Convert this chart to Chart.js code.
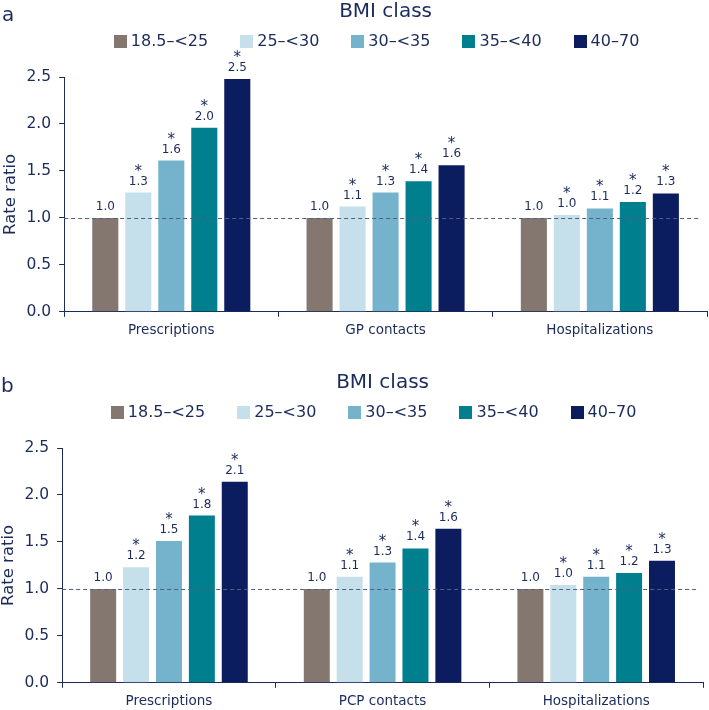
<!DOCTYPE html>
<html>
<head>
<meta charset="utf-8">
<script src="https://cdn.jsdelivr.net/npm/chart.js@4.4.1/dist/chart.umd.min.js"></script>
<style>
  html, body { margin: 0; padding: 0; background: #fff; width: 709px; height: 710px; overflow: hidden; }
  .panel { position: absolute; left: 0; width: 709px; height: 345px; }
  .tag { position: absolute; top: 2px; left: 2px; font: 20px "DejaVu Sans", sans-serif; color: #1b2b5b; }
</style>
</head>
<body>
<div class="panel" style="top:0">
  <canvas id="chartA" width="709" height="345"></canvas>
  <div class="tag">a</div>
</div>
<div class="panel" style="top:371px; left:-2px">
  <canvas id="chartB" width="709" height="345"></canvas>
  <div class="tag" style="left:3px">b</div>
</div>
<script>
// BMI classes (legend)
const BMI_CLASSES = ["18.5–<25", "25–<30", "30–<35", "35–<40", "40–70"];
const SIGNIFICANT = [false, true, true, true, true];
const REF_LINE = 1.0;

// panel a
const CATEGORIES_A = ["Prescriptions", "GP contacts", "Hospitalizations"];
const A_BMI_18 = [1.00, 1.00, 1.00];
const A_BMI_25 = [1.27, 1.12, 1.03];
const A_BMI_30 = [1.61, 1.27, 1.10];
const A_BMI_35 = [1.96, 1.39, 1.17];
const A_BMI_40 = [2.48, 1.56, 1.26];

// panel b
const CATEGORIES_B = ["Prescriptions", "PCP contacts", "Hospitalizations"];
const B_BMI_18 = [1.00, 1.00, 1.00];
const B_BMI_25 = [1.23, 1.13, 1.04];
const B_BMI_30 = [1.51, 1.28, 1.13];
const B_BMI_35 = [1.78, 1.43, 1.17];
const B_BMI_40 = [2.14, 1.64, 1.30];

const BAR_COLORS = ["#837770", "#c5dfeb", "#75b3cc", "#007f8f", "#0b1c5f"];
const TEXT = "#1b2b5b";
const FONT = '"DejaVu Sans", Verdana, sans-serif';

Chart.defaults.font.family = FONT;
Chart.defaults.color = TEXT;

// legend row drawn under the title, centred a bit left of the plot area
const bmiLegend = {
  id: "bmiLegend",
  afterDraw(chart) {
    const ctx = chart.ctx;
    const area = chart.chartArea;
    const box = 13, gap = 4, spacing = 32, y = 41;
    ctx.save();
    ctx.font = "16px " + FONT;
    const items = chart.data.datasets.map(ds => ({
      text: ds.label, color: ds.backgroundColor, w: ctx.measureText(ds.label).width
    }));
    const total = items.reduce((s, it) => s + box + gap + it.w, 0) + spacing * (items.length - 1);
    let x = (area.left + area.right) / 2 - 9 - total / 2;
    ctx.textBaseline = "middle";
    ctx.textAlign = "left";
    items.forEach(it => {
      ctx.fillStyle = it.color;
      ctx.fillRect(Math.round(x), y - 6, box, box);
      x += box + gap;
      ctx.fillStyle = TEXT;
      ctx.fillText(it.text, x, y + 1);
      x += it.w + spacing;
    });
    ctx.restore();
  }
};

// dashed reference line + value labels with asterisks
const barLabels = {
  id: "barLabels",
  afterDatasetsDraw(chart) {
    const ctx = chart.ctx;
    const area = chart.chartArea;
    const yRef = Math.round(chart.scales.y.getPixelForValue(REF_LINE)) + 0.5;
    ctx.save();
    ctx.strokeStyle = "#4f5f80";
    ctx.lineWidth = 1.2;
    ctx.setLineDash([4, 3]);
    ctx.beginPath();
    ctx.moveTo(area.left, yRef);
    ctx.lineTo(area.right - 7, yRef);
    ctx.stroke();
    ctx.setLineDash([]);
    ctx.fillStyle = TEXT;
    ctx.textAlign = "center";
    ctx.textBaseline = "alphabetic";
    chart.data.datasets.forEach((ds, i) => {
      chart.getDatasetMeta(i).data.forEach((bar, j) => {
        ctx.font = "12px " + FONT;
        ctx.fillText(ds.data[j].toFixed(1), bar.x, bar.y - 8);
        if (SIGNIFICANT[i]) {
          ctx.font = "15px " + FONT;
          ctx.fillText("*", bar.x, bar.y - 17);
        }
      });
    });
    ctx.restore();
  }
};

function makeChart(id, categories, series, padRight) {
  new Chart(document.getElementById(id), {
    type: "bar",
    data: {
      labels: categories,
      datasets: series.map((values, i) => ({
        label: BMI_CLASSES[i],
        data: values,
        backgroundColor: BAR_COLORS[i],
        borderWidth: 0,
        categoryPercentage: 0.77,
        barPercentage: 0.79
      }))
    },
    options: {
      responsive: false,
      animation: false,
      layout: { padding: { top: 0, left: 0, right: padRight, bottom: 0 } },
      plugins: {
        legend: { display: false },
        tooltip: { enabled: false },
        title: {
          display: true,
          text: "BMI class",
          fullSize: false,
          color: TEXT,
          font: { size: 20, weight: "normal", lineHeight: 1 },
          padding: { top: 2, bottom: 55 }
        }
      },
      scales: {
        x: {
          grid: { drawOnChartArea: false, offset: true, tickLength: 5, color: TEXT },
          border: { color: TEXT, width: 1 },
          ticks: { color: TEXT, font: { size: 13.5 }, padding: 6 }
        },
        y: {
          min: 0,
          max: 2.5,
          grid: { drawOnChartArea: false, tickLength: 5, color: TEXT },
          border: { color: TEXT, width: 1 },
          ticks: {
            stepSize: 0.5,
            color: TEXT,
            font: { size: 15.5 },
            padding: 8,
            callback: v => v.toFixed(1)
          },
          title: {
            display: true,
            text: "Rate ratio",
            color: TEXT,
            font: { size: 16.5, lineHeight: 1 },
            padding: { top: 2, bottom: 0 }
          }
        }
      }
    },
    plugins: [barLabels, bmiLegend]
  });
}

makeChart("chartA", CATEGORIES_A, [A_BMI_18, A_BMI_25, A_BMI_30, A_BMI_35, A_BMI_40], 2);
makeChart("chartB", CATEGORIES_B, [B_BMI_18, B_BMI_25, B_BMI_30, B_BMI_35, B_BMI_40], 4);
</script>
</body>
</html>
